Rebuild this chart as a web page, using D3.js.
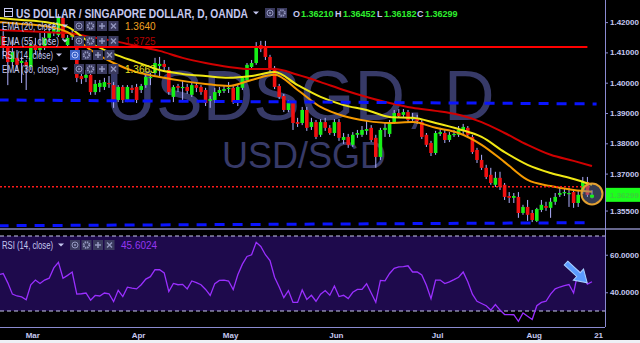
<!DOCTYPE html>
<html>
<head>
<meta charset="utf-8">
<script src="https://cdn.jsdelivr.net/npm/d3@7"></script>
<style>
  html, body { margin: 0; padding: 0; background: #000; }
  svg { display: block; }
</style>
</head>
<body>
<div id="chart"></div>
<script>
// ---- data (USD/SGD daily, OANDA, 20 Feb – 18 Aug 2017) -------------------
const opens = [
  1.4124,1.4154,1.4115,1.4068,1.4082,1.4065,1.4068,1.4052,1.4124,1.4108,
  1.4118,1.4148,1.4164,1.4157,1.4214,1.4124,1.4151,1.4131,1.4022,1.4016,
  1.4026,1.3969,1.3986,1.3986,1.3999,1.3992,1.3943,1.3986,1.3943,1.3983,
  1.3986,1.3976,1.3992,1.4016,1.4032,1.4055,1.4062,1.4042,1.3953,1.3989,
  1.3983,1.3986,1.3960,1.3992,1.3986,1.3976,1.3940,1.3943,1.3966,1.3973,
  1.3979,1.3983,1.3936,1.3983,1.4009,1.4052,1.4065,1.4124,1.4115,1.4085,
  1.4049,1.3989,1.3956,1.3910,1.3933,1.3870,1.3867,1.3910,1.3854,1.3870,
  1.3828,1.3870,1.3851,1.3834,1.3870,1.3811,1.3821,1.3795,1.3828,1.3828,
  1.3841,1.3851,1.3818,1.3755,1.3844,1.3831,1.3870,1.3900,1.3894,1.3903,
  1.3880,1.3884,1.3870,1.3828,1.3801,1.3768,1.3831,1.3834,1.3811,1.3828,
  1.3828,1.3844,1.3851,1.3821,1.3778,1.3745,1.3719,1.3696,1.3663,1.3686,
  1.3663,1.3626,1.3620,1.3623,1.3570,1.3590,1.3570,1.3544,1.3580,1.3593,
  1.3587,1.3607,1.3630,1.3636,1.3633,1.3639,1.3603,1.3639,1.3672,1.36210
];
const highs = [
  1.4174,1.4181,1.4128,1.4141,1.4108,1.4085,1.4075,1.4134,1.4148,1.4164,
  1.4174,1.4191,1.4200,1.4227,1.4220,1.4157,1.4174,1.4141,1.4035,1.4042,
  1.4035,1.4009,1.4009,1.4016,1.4022,1.4002,1.3992,1.3992,1.3992,1.3992,
  1.3996,1.3996,1.4029,1.4032,1.4082,1.4085,1.4075,1.4052,1.3992,1.3996,
  1.4009,1.3996,1.3999,1.4002,1.3992,1.3983,1.3956,1.3983,1.3986,1.3992,
  1.4002,1.3989,1.3992,1.4022,1.4065,1.4075,1.4134,1.4138,1.4138,1.4092,
  1.4055,1.3996,1.3963,1.3943,1.3940,1.3884,1.3920,1.3920,1.3884,1.3877,
  1.3880,1.3884,1.3860,1.3880,1.3880,1.3834,1.3831,1.3837,1.3844,1.3857,
  1.3877,1.3860,1.3828,1.3851,1.3870,1.3877,1.3910,1.3913,1.3913,1.3910,
  1.3900,1.3894,1.3877,1.3834,1.3808,1.3841,1.3851,1.3844,1.3837,1.3844,
  1.3857,1.3864,1.3857,1.3828,1.3785,1.3762,1.3729,1.3719,1.3706,1.3706,
  1.3669,1.3639,1.3636,1.3639,1.3597,1.3613,1.3580,1.3587,1.3613,1.3607,
  1.3620,1.3636,1.3653,1.3653,1.3653,1.3646,1.3646,1.3689,1.3689,1.36452
];
const lows = [
  1.4115,1.4092,1.3992,1.4055,1.4042,1.3999,1.3976,1.4042,1.4092,1.4085,
  1.4108,1.4134,1.4154,1.4151,1.4141,1.4115,1.4141,1.4002,1.3996,1.4002,
  1.3960,1.3960,1.3969,1.3976,1.3983,1.3917,1.3936,1.3933,1.3936,1.3966,
  1.3933,1.3966,1.3983,1.3992,1.4026,1.4019,1.4042,1.3960,1.3936,1.3969,
  1.3936,1.3963,1.3953,1.3969,1.3960,1.3923,1.3917,1.3933,1.3956,1.3966,
  1.3966,1.3930,1.3923,1.3976,1.4002,1.4045,1.4059,1.4101,1.4075,1.4035,
  1.3979,1.3946,1.3903,1.3903,1.3844,1.3854,1.3860,1.3841,1.3844,1.3814,
  1.3821,1.3841,1.3828,1.3824,1.3808,1.3798,1.3785,1.3788,1.3818,1.3821,
  1.3828,1.3804,1.3719,1.3745,1.3821,1.3821,1.3864,1.3884,1.3887,1.3870,
  1.3874,1.3864,1.3814,1.3788,1.3758,1.3762,1.3824,1.3801,1.3804,1.3821,
  1.3821,1.3831,1.3818,1.3765,1.3735,1.3712,1.3682,1.3663,1.3656,1.3646,
  1.3613,1.3603,1.3603,1.3554,1.3564,1.3544,1.3540,1.3540,1.3573,1.3577,
  1.3554,1.3597,1.3623,1.3626,1.3590,1.3587,1.3590,1.3633,1.3623,1.36182
];
const closes = [
  1.4154,1.4115,1.4068,1.4101,1.4059,1.4072,1.4055,1.4124,1.4108,1.4118,
  1.4148,1.4164,1.4177,1.4214,1.4148,1.4148,1.4164,1.4016,1.4012,1.4026,
  1.3969,1.3996,1.3999,1.4002,1.3996,1.3943,1.3986,1.3943,1.3986,1.3976,
  1.3943,1.3989,1.4019,1.4019,1.4065,1.4062,1.4052,1.3969,1.3986,1.3983,
  1.3986,1.3973,1.3992,1.3983,1.3969,1.3933,1.3946,1.3969,1.3976,1.3979,
  1.3983,1.3936,1.3986,1.4016,1.4059,1.4065,1.4118,1.4111,1.4085,1.4042,
  1.3986,1.3953,1.3910,1.3933,1.3867,1.3864,1.3910,1.3851,1.3870,1.3821,
  1.3870,1.3851,1.3834,1.3870,1.3818,1.3821,1.3795,1.3828,1.3834,1.3844,
  1.3847,1.3811,1.3755,1.3844,1.3851,1.3867,1.3900,1.3890,1.3903,1.3877,
  1.3884,1.3874,1.3821,1.3795,1.3768,1.3834,1.3837,1.3811,1.3828,1.3831,
  1.3844,1.3854,1.3828,1.3771,1.3745,1.3719,1.3689,1.3669,1.3686,1.3656,
  1.3623,1.3620,1.3626,1.3570,1.3590,1.3564,1.3547,1.3583,1.3597,1.3587,
  1.3607,1.3623,1.3636,1.3639,1.3636,1.3603,1.3630,1.3672,1.3630,1.36299
];

// EMAs every 5 bars (bar index -> value)
const emaIdx = [0,5,10,15,20,25,30,35,40,45,50,55,60,65,70,75,80,85,90,95,100,105,110,115,120,125,129];
const ema55 = [1.4174,1.4171,1.4167,1.4164,1.4151,1.4138,1.4121,1.4105,1.4082,1.4065,1.4052,1.4045,1.4045,1.4026,
               1.4002,1.3976,1.3953,1.3933,1.3917,1.3907,1.3894,1.3870,1.3834,1.3795,1.3762,1.3742,1.3725];
const ema30 = [1.4214,1.4207,1.4200,1.4184,1.4131,1.4095,1.4068,1.4042,1.4029,1.4022,1.4016,1.4022,1.4035,1.3992,
               1.3953,1.3926,1.3910,1.3887,1.3884,1.3867,1.3847,1.3821,1.3771,1.3729,1.3702,1.3682,1.3663];
const ema20 = [1.4200,1.4194,1.4187,1.4167,1.4108,1.4065,1.4035,1.4019,1.4006,1.3996,1.3989,1.4009,1.4026,1.3976,
               1.3920,1.3890,1.3874,1.3867,1.3870,1.3851,1.3834,1.3795,1.3738,1.3679,1.3659,1.3646,1.3640];

const rsi = [
  49.3,50.0,45.0,39.0,38.0,37.5,36.0,44.0,46.5,44.7,
  46.5,47.5,53.0,56.0,47.5,49.0,50.8,39.0,39.2,39.6,
  35.8,38.3,38.0,39.6,39.2,35.0,41.0,37.7,42.7,42.2,
  41.8,44.0,47.0,48.3,52.0,52.0,50.3,40.4,44.7,44.0,
  44.2,41.8,46.0,45.1,44.0,41.5,38.3,44.6,46.3,46.5,
  46.0,41.4,49.3,55.0,59.1,60.0,66.6,64.4,60.0,56.9,
  48.0,42.8,37.1,40.9,34.6,34.6,41.2,36.2,38.4,35.2,
  39.0,40.9,38.4,43.3,37.7,38.4,36.6,40.0,41.5,41.5,
  44.5,39.6,34.6,46.3,46.1,50.0,52.8,53.5,53.7,54.1,
  50.8,50.8,49.2,43.7,36.6,46.5,46.5,44.6,45.5,46.7,
  48.0,50.8,45.6,39.0,35.2,34.0,32.8,30.5,33.4,30.5,
  28.1,28.1,28.0,24.5,29.0,27.2,25.5,32.8,34.6,35.2,
  39.0,41.8,42.8,43.5,44.1,39.6,51.3,48.5,44.3,45.6024
];

const monthTicks = [['2017-03-01','Mar'],['2017-04-03','Apr'],['2017-05-01','May'],
                    ['2017-06-01','Jun'],['2017-07-03','Jul'],['2017-08-01','Aug'],['2017-08-21','21']];
const priceTicks = [1.42, 1.41, 1.40, 1.39, 1.38, 1.37, 1.355];
const rsiTicks = [60, 40];
const rsiBands = [70, 30];

// drawings on the chart
const hLineRed = { from: 0, to: 128, price: 1.4118 };
const hLineDotted = { from: 0, to: 128.5, price: 1.3657 };
const trendBlue = [
  [[0, 1.3943], [130, 1.3930]],
  [[0, 1.3528], [129, 1.3538]]
];

// trading days (weekdays) for the x axis
const dates = d3.timeDay.range(new Date(2017, 1, 20), new Date(2017, 7, 19))
  .filter(d => d.getDay() !== 0 && d.getDay() !== 6);

// ---- layout ---------------------------------------------------------------
const W = 640, H = 343;
const AXIS_X = 605;
const MAIN_BOTTOM = 228;
const RSI_TOP = 231, RSI_BOTTOM = 327;

const TXT = '#c5c8f0';
const FONT = '"Liberation Sans", Arial, sans-serif';

const x = d3.scaleLinear().domain([0, 129]).range([-1.4, 592]);
const y = d3.scaleLinear().domain([1.37, 1.42]).range([173.6, 22.1]);
const yr = d3.scaleLinear().domain([30, 70]).range([311, 236]);

const svg = d3.select('#chart').append('svg')
  .attr('width', W).attr('height', H)
  .style('font-family', FONT);

svg.append('rect').attr('width', W).attr('height', H).attr('fill', '#000');

const defs = svg.append('defs');
defs.append('clipPath').attr('id', 'clip-main')
  .append('rect').attr('x', 0).attr('y', 0).attr('width', AXIS_X).attr('height', MAIN_BOTTOM);
defs.append('clipPath').attr('id', 'clip-rsi')
  .append('rect').attr('x', 0).attr('y', RSI_TOP).attr('width', AXIS_X).attr('height', RSI_BOTTOM - RSI_TOP);

// -- main pane -------------------------------------------------------------
const main = svg.append('g').attr('clip-path', 'url(#clip-main)');

// watermark
main.append('text')
  .attr('x', 300).attr('y', 120).attr('text-anchor', 'middle')
  .attr('font-size', 70).attr('fill', '#373a68')
  .text('USDSGD, D');
main.append('text')
  .attr('x', 304).attr('y', 168).attr('text-anchor', 'middle')
  .attr('font-size', 36).attr('fill', '#373a68')
  .text('USD/SGD');

// candles
const idx = d3.range(closes.length);
const candles = main.append('g');
candles.selectAll('line')
  .data(idx).join('line')
  .attr('x1', i => x(i)).attr('x2', i => x(i))
  .attr('y1', i => y(highs[i])).attr('y2', i => y(lows[i]))
  .attr('stroke', '#b0b0ff').attr('stroke-width', 1);
candles.selectAll('rect')
  .data(idx).join('rect')
  .attr('x', i => x(i) - 1.8)
  .attr('width', 3.6)
  .attr('y', i => y(Math.max(opens[i], closes[i])))
  .attr('height', i => Math.max(1.2, Math.abs(y(opens[i]) - y(closes[i]))))
  .attr('fill', i => closes[i] >= opens[i] ? '#17f017' : '#f01010');

// moving averages
const emaLine = d3.line().x((d, k) => x(emaIdx[k])).y(d => y(d)).curve(d3.curveMonotoneX);
[[ema55, '#d00000'], [ema30, '#f0e814'], [ema20, '#f59a00']].forEach(([s, c]) => {
  main.append('path').attr('d', emaLine(s))
    .attr('fill', 'none').attr('stroke', c).attr('stroke-width', 2);
});

// drawings
main.append('line')
  .attr('x1', 0).attr('x2', x(hLineRed.to))
  .attr('y1', y(hLineRed.price)).attr('y2', y(hLineRed.price))
  .attr('stroke', '#ff0000').attr('stroke-width', 2);
main.append('line')
  .attr('x1', 0).attr('x2', x(hLineDotted.to))
  .attr('y1', y(hLineDotted.price)).attr('y2', y(hLineDotted.price))
  .attr('stroke', '#ff1a1a').attr('stroke-width', 1.5).attr('stroke-dasharray', '2,2');
trendBlue.forEach(seg => {
  main.append('line')
    .attr('x1', x(seg[0][0])).attr('y1', y(seg[0][1]))
    .attr('x2', x(seg[1][0])).attr('y2', y(seg[1][1]))
    .attr('stroke', '#0a14ff').attr('stroke-width', 3).attr('stroke-dasharray', '10,8');
});

// highlight circle on the last bar
main.append('circle')
  .attr('cx', x(129)).attr('cy', y(1.3633)).attr('r', 10.5)
  .attr('fill', 'rgba(120,130,180,0.45)')
  .attr('stroke', '#e3a030').attr('stroke-width', 2);
main.append('rect')
  .attr('x', x(129) - 1.8).attr('width', 3.6)
  .attr('y', y(closes[129])).attr('height', y(opens[129]) - y(closes[129]))
  .attr('fill', '#17f017');

// -- header + legends ------------------------------------------------------
function caret(g, cx, cy) {
  g.append('path').attr('d', `M${cx - 3},${cy - 1.5}L${cx + 3},${cy - 1.5}L${cx},${cy + 1.5}Z`).attr('fill', TXT);
}
function button(g, bx, by, kind, hl) {
  const b = g.append('g').attr('transform', `translate(${bx},${by})`);
  b.append('rect').attr('width', 10).attr('height', 10)
    .attr('fill', hl ? '#3b63c8' : '#3a3a5e');
  const c = hl ? '#b8c8ff' : '#9498c0';
  if (kind === 'eye') {
    b.append('circle').attr('cx', 5).attr('cy', 5).attr('r', 3).attr('fill', 'none').attr('stroke', c).attr('stroke-width', 1);
    b.append('circle').attr('cx', 5).attr('cy', 5).attr('r', 1).attr('fill', c);
  } else if (kind === 'gear') {
    b.append('circle').attr('cx', 5).attr('cy', 5).attr('r', 2.8).attr('fill', 'none').attr('stroke', c)
      .attr('stroke-width', 2).attr('stroke-dasharray', '1.4,0.8');
  } else if (kind === 'plus') {
    b.append('path').attr('d', 'M5,2V8M2,5H8').attr('stroke', c).attr('stroke-width', 1.5);
  } else {
    b.append('path').attr('d', 'M2.5,2.5L7.5,7.5M7.5,2.5L2.5,7.5').attr('stroke', c).attr('stroke-width', 1.3);
  }
}
const kinds = ['eye', 'gear', 'plus', 'close'];

const head = svg.append('g');
head.append('rect').attr('x', 4.5).attr('y', 8.5).attr('width', 8).attr('height', 8)
  .attr('fill', 'none').attr('stroke', TXT).attr('stroke-width', 1);
head.append('line').attr('x1', 4.5).attr('x2', 12.5).attr('y1', 11.5).attr('y2', 11.5).attr('stroke', TXT);
head.append('text').attr('x', 16).attr('y', 17.5)
  .attr('font-size', 12).attr('font-weight', 'bold').attr('fill', TXT)
  .attr('textLength', 232).attr('lengthAdjust', 'spacingAndGlyphs')
  .text('US DOLLAR / SINGAPORE DOLLAR, D, OANDA');
caret(head, 256, 13);
button(head, 265, 8, 'eye');
button(head, 277, 8, 'gear');

const ohlc = [['O', 293, TXT], ['1.36210', 301, '#2ef02e'], ['H', 335, TXT], ['1.36452', 343, '#2ef02e'],
              ['L', 377, TXT], ['1.36182', 384, '#2ef02e'], ['C', 417, TXT], ['1.36299', 425, '#2ef02e']];
head.selectAll('text.ohlc').data(ohlc).join('text').attr('class', 'ohlc')
  .attr('x', d => d[1]).attr('y', 16.5)
  .attr('font-size', 9).attr('font-weight', 'bold')
  .attr('fill', d => d[2]).text(d => d[0]);

const legendRows = [
  { label: 'EMA (20, close)', y: 26, w: 57, bx: 74, value: '1.3640', color: '#f0a020' },
  { label: 'EMA (55, close)', y: 41, w: 57, bx: 74, value: '1.3725', color: '#b40000' },
  { label: 'RSI (14, close)', y: 55, w: 51, bx: 70, value: null, hl: true },
  { label: 'EMA (30, close)', y: 69, w: 57, bx: 74, value: '1.3663', color: '#e8e020' }
];
legendRows.forEach(r => {
  const g = svg.append('g');
  g.append('text').attr('x', 2).attr('y', r.y + 3.5)
    .attr('font-size', 10).attr('fill', TXT)
    .attr('textLength', r.w).attr('lengthAdjust', 'spacingAndGlyphs')
    .text(r.label);
  caret(g, r.w + 8, r.y);
  kinds.forEach((k, j) => button(g, r.bx + j * 11.5, r.y - 5, k, r.hl && j === 0));
  if (r.value) {
    g.append('text').attr('x', 125).attr('y', r.y + 3.5)
      .attr('font-size', 10).attr('fill', r.color).text(r.value);
  }
});

// -- price axis ------------------------------------------------------------
const yAxis = svg.append('g').attr('transform', `translate(${AXIS_X},0)`)
  .call(d3.axisRight(y).tickValues(priceTicks).tickSize(3).tickPadding(2).tickFormat(d3.format('.5f')));
yAxis.select('.domain').remove();
yAxis.selectAll('line').attr('stroke', '#8a8ad0');
yAxis.selectAll('text').attr('fill', TXT).attr('font-size', 8).attr('font-weight', 'bold')
  .attr('font-family', FONT);
yAxis.selectAll('.tick').filter(d => d === 1.355)
  .attr('transform', `translate(0,${y(1.355) - 8})`);

// last price tag
const lastY = y(closes[129]);
svg.append('rect').attr('x', AXIS_X + 1).attr('y', lastY - 7).attr('width', W - AXIS_X - 1).attr('height', 14)
  .attr('fill', '#1cff1c');
svg.append('text').attr('x', AXIS_X + 5).attr('y', lastY + 3)
  .attr('font-size', 8).attr('font-weight', 'bold').attr('fill', '#3ccf3c')
  .text(d3.format('.5f')(closes[129]));

// pane separator
svg.append('rect').attr('x', 0).attr('y', MAIN_BOTTOM).attr('width', W).attr('height', 2).attr('fill', '#66668c');

// -- RSI pane --------------------------------------------------------------
const rsiG = svg.append('g').attr('clip-path', 'url(#clip-rsi)');
rsiG.append('rect').attr('x', 0).attr('width', AXIS_X)
  .attr('y', yr(rsiBands[0])).attr('height', yr(rsiBands[1]) - yr(rsiBands[0]))
  .attr('fill', '#1e0a4c');
rsiBands.forEach(v => {
  rsiG.append('line').attr('x1', 0).attr('x2', AXIS_X)
    .attr('y1', yr(v)).attr('y2', yr(v))
    .attr('stroke', '#c8c8ec').attr('stroke-width', 1).attr('stroke-dasharray', '4,3');
});
rsiG.append('path')
  .attr('d', d3.line().x((d, i) => x(i)).y(d => yr(d))(rsi))
  .attr('fill', 'none').attr('stroke', '#9a2fff').attr('stroke-width', 1.3);

// hand-drawn arrow annotation
const arrow = rsiG.append('g').attr('transform', 'translate(566,263) rotate(43)');
arrow.append('path')
  .attr('d', 'M0,-2.6L17,-2.6L17,-7.5L29,0L17,7.5L17,2.6L0,2.6Z')
  .attr('fill', '#5b9cff').attr('stroke', '#a9d0ff').attr('stroke-width', 1);

// RSI legend
const rl = svg.append('g');
rl.append('text').attr('x', 2).attr('y', 248.5).attr('font-size', 10).attr('fill', TXT)
  .attr('textLength', 51).attr('lengthAdjust', 'spacingAndGlyphs').text('RSI (14, close)');
caret(rl, 61, 245);
kinds.forEach((k, j) => button(rl, 70 + j * 11.5, 240, k));
rl.append('text').attr('x', 121).attr('y', 248.5).attr('font-size', 10).attr('fill', '#9436f0')
  .text(d3.format('.4f')(rsi[rsi.length - 1]));

const rAxis = svg.append('g').attr('transform', `translate(${AXIS_X},0)`)
  .call(d3.axisRight(yr).tickValues(rsiTicks).tickSize(3).tickPadding(2).tickFormat(d3.format('.4f')));
rAxis.select('.domain').remove();
rAxis.selectAll('line').attr('stroke', '#8a8ad0');
rAxis.selectAll('text').attr('fill', TXT).attr('font-size', 8).attr('font-weight', 'bold')
  .attr('font-family', FONT);

// -- axis frame + time axis ------------------------------------------------
svg.append('line').attr('x1', AXIS_X + 0.5).attr('x2', AXIS_X + 0.5).attr('y1', 0).attr('y2', RSI_BOTTOM)
  .attr('stroke', '#8a8ad0').attr('stroke-width', 1);
svg.append('line').attr('x1', 0).attr('x2', AXIS_X).attr('y1', RSI_BOTTOM + 0.5).attr('y2', RSI_BOTTOM + 0.5)
  .attr('stroke', '#8a8ad0').attr('stroke-width', 1);

const parse = d3.timeParse('%Y-%m-%d');
const tickPos = monthTicks.map(([d, label]) => {
  const t = parse(d);
  let i = dates.findIndex(v => v >= t);
  if (i < 0) i = dates.length;
  return { i, label };
});
svg.selectAll('text.xt').data(tickPos).join('text').attr('class', 'xt')
  .attr('x', d => x(d.i) + 2).attr('y', 338)
  .attr('text-anchor', 'middle')
  .attr('font-size', 8).attr('font-weight', 'bold').attr('fill', TXT)
  .text(d => d.label);

svg.append('rect').attr('x', 0).attr('y', 340).attr('width', W).attr('height', 3).attr('fill', '#eef0f6');
</script>
</body>
</html>
